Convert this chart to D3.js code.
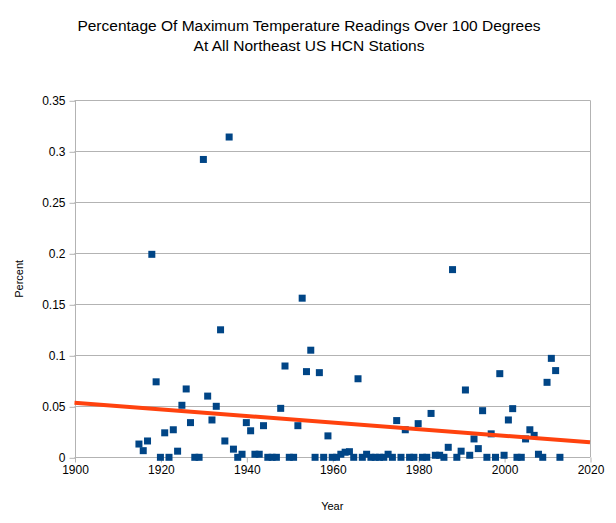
<!DOCTYPE html>
<html>
<head>
<meta charset="utf-8">
<script src="https://cdn.jsdelivr.net/npm/d3@7"></script>
<style>
  body { margin: 0; background: #fff; }
  text { font-family: "Liberation Sans", Arial, sans-serif; }
</style>
</head>
<body>
<svg id="chart" width="616" height="523"></svg>
<script>
const years = [1915,1916,1917,1918,1919,1920,1921,1922,1923,1924,1925,1926,1927,1928,1929,1930,1931,1932,1933,1934,1935,1936,1937,1938,1939,1940,1941,1942,1943,1944,1945,1946,1947,1948,1949,1950,1951,1952,1953,1954,1955,1956,1957,1958,1959,1960,1961,1962,1963,1964,1965,1966,1967,1968,1969,1970,1971,1972,1973,1974,1975,1976,1977,1978,1979,1980,1981,1982,1983,1984,1985,1986,1987,1988,1989,1990,1991,1992,1993,1994,1995,1996,1997,1998,1999,2000,2001,2002,2003,2004,2005,2006,2007,2008,2009,2010,2011,2012,2013];
const percent = [0.013,0.0065,0.016,0.199,0.074,0,0.024,0,0.027,0.006,0.051,0.067,0.034,0,0,0.292,0.060,0.0366,0.050,0.125,0.016,0.314,0.008,0,0.003,0.034,0.026,0.003,0.003,0.031,0,0,0,0.048,0.0895,0,0,0.031,0.156,0.084,0.105,0,0.083,0,0.021,0,0,0.003,0.005,0.0055,0,0.077,0,0.003,0,0,0,0,0.003,0,0.036,0,0.027,0,0,0.033,0,0,0.043,0.002,0.002,0,0.0098,0.184,0,0.006,0.066,0.002,0.018,0.0085,0.0457,0,0.023,0,0.082,0.002,0.0366,0.0477,0,0,0.018,0.027,0.0215,0.003,0,0.0735,0.097,0.085,0];
const trendYears = [1900, 2020];
const trendValues = [0.0535, 0.0147];
const xTicks = [1900,1920,1940,1960,1980,2000,2020];
const yTicks = [0,0.05,0.1,0.15,0.2,0.25,0.3,0.35];
const titleLines = ["Percentage Of Maximum Temperature Readings Over 100 Degrees", "At All Northeast US HCN Stations"];

const svg = d3.select("#chart");
const mLeft = 74.5, mRight = 590, mTop = 100.3, mBottom = 457.3;
const x = d3.scaleLinear().domain([1900, 2020]).range([mLeft, mRight]);
const y = d3.scaleLinear().domain([0, 0.35]).range([mBottom, mTop]);

// title
svg.append("g").selectAll("text").data(titleLines).join("text")
  .attr("x", 309).attr("y", (d, i) => 31 + i * 20)
  .attr("text-anchor", "middle").attr("font-size", 15.5).attr("fill", "#000")
  .text(d => d);

// grid
svg.append("g").selectAll("line").data(yTicks).join("line")
  .attr("x1", mLeft).attr("x2", mRight)
  .attr("y1", d => Math.round(y(d)) + 0.5).attr("y2", d => Math.round(y(d)) + 0.5)
  .attr("stroke", "#b3b3b3").attr("stroke-width", 1);
svg.append("line").attr("x1", mRight + 0.5).attr("x2", mRight + 0.5)
  .attr("y1", y(0.35)).attr("y2", y(0)).attr("stroke", "#b3b3b3");

// y axis
const yAxis = d3.axisLeft(y).tickValues(yTicks).tickSize(6).tickPadding(4)
  .tickFormat(d => d === 0 ? "0" : String(+d.toFixed(2)));
const gy = svg.append("g").attr("transform", `translate(${Math.round(mLeft) + 0.5},0.5)`).call(yAxis);
gy.select(".domain").attr("stroke", "#b3b3b3").attr("d", `M0,${y(0.35)}V${y(0)}`);
gy.selectAll(".tick line").attr("stroke", "#b3b3b3");
gy.selectAll(".tick text").attr("font-size", 12).attr("fill", "#000")
  .attr("font-family", '"Liberation Sans", Arial, sans-serif');

// x axis
const xAxis = d3.axisBottom(x).tickValues(xTicks).tickSize(5).tickPadding(3).tickFormat(d3.format("d"));
const gx = svg.append("g").attr("transform", `translate(0.5,${Math.round(mBottom) + 0.5})`).call(xAxis);
gx.select(".domain").remove();
gx.selectAll(".tick line").attr("stroke", "#b3b3b3");
gx.selectAll(".tick text").attr("font-size", 12).attr("fill", "#000")
  .attr("font-family", '"Liberation Sans", Arial, sans-serif');

// axis titles
svg.append("text").attr("x", x(1960)).attr("y", 510).attr("text-anchor", "middle")
  .attr("font-size", 11).attr("fill", "#000").text("Year");
svg.append("text").attr("transform", `translate(23,${y(0.175)}) rotate(-90)`)
  .attr("text-anchor", "middle").attr("font-size", 11).attr("fill", "#000").text("Percent");

// points
const pts = years.map((yr, i) => ({year: yr, value: percent[i]}));
const s = 7;
svg.append("g").selectAll("rect").data(pts).join("rect")
  .attr("x", d => x(d.year) - s / 2).attr("y", d => y(d.value) - s / 2)
  .attr("width", s).attr("height", s).attr("fill", "#004586");

// trend
const trend = trendYears.map((yr, i) => ({year: yr, value: trendValues[i]}));
svg.append("path").datum(trend)
  .attr("d", d3.line().x(d => x(d.year)).y(d => y(d.value)))
  .attr("stroke", "#ff420e").attr("stroke-width", 4).attr("fill", "none");
</script>
</body>
</html>
